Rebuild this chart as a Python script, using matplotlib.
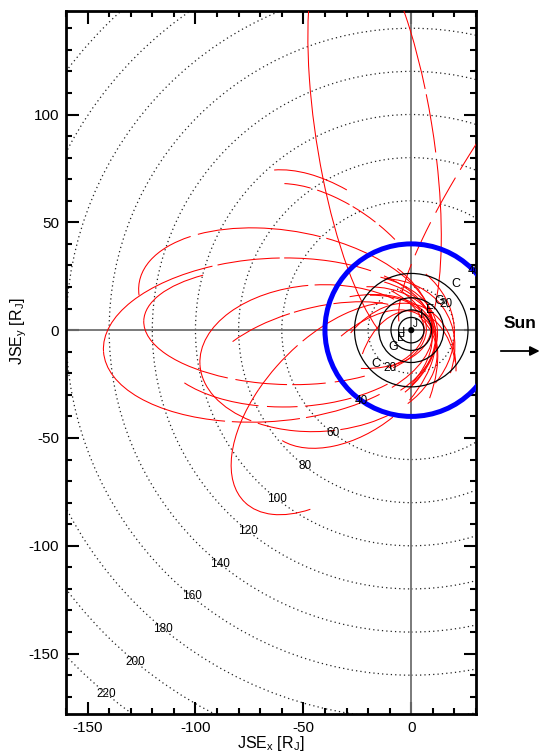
import numpy as np
import matplotlib
matplotlib.use("Agg")
import matplotlib.pyplot as plt
from matplotlib.patches import Arc, Circle
from matplotlib.ticker import MultipleLocator

plt.rcParams['font.family'] = ['Liberation Sans', 'DejaVu Sans']
plt.rcParams['axes.unicode_minus'] = False
plt.rcParams['mathtext.fontset'] = 'custom'
plt.rcParams['mathtext.rm'] = 'Liberation Sans'
plt.rcParams['mathtext.it'] = 'Liberation Sans:italic'

# distance rings [RJ]
ring_radii = [20, 40, 60, 80, 100, 120, 140, 160, 180, 200, 220]
ring_radii_ne = [20, 40]   # labels repeated on the upper right (only these fall in view)
# moon orbits
moon_names = ['I', 'E', 'G', 'C']
moon_radii = [5.9, 9.4, 15.0, 26.3]
boundary_r = 40

# trajectory pieces, read off as ellipse fits in JSE:
# centre x, centre y, semi-major, semi-minor, tilt [deg], visible arcs [deg]
orb_cx = [-66.3, -58.1, -59.0, -43.0, -35.1, -17.0, 127.3, -36.0, -36.3, -44.9,
          -28.7, -54.4, -38.1, -32.4, -26.4, -9.9, -43.3, -2.2, -35.9, -34.9,
          -23.3, -56.3, -39.0, -57.5]
orb_cy = [-4.6, 10.2, 2.1, -13.0, -36.3, 90.0, 151.8, 30.2, 27.4, -12.0,
          -20.1, -2.9, 13.9, -11.8, -37.7, -27.3, -25.0, -25.4, -6.3, -3.1,
          -16.3, 4.9, -18.2, -15.4]
orb_a = [76.5, 69.0, 65.0, 55.0, 60.5, 100.0, 201.9, 57.0, 54.5, 51.5,
         45.0, 63.5, 49.5, 45.5, 54.0, 41.0, 60.0, 34.5, 48.5, 55.0,
         46.5, 63.5, 52.0, 70.5]
orb_b = [37.8, 35.8, 27.3, 34.0, 33.3, 27.0, 39.0, 32.2, 30.0, 22.1,
         28.3, 32.6, 28.5, 29.7, 28.3, 29.0, 33.2, 23.2, 31.9, 42.4,
         36.7, 29.0, 29.2, 37.8]
orb_tilt = [184, 170, 178, 183, 226, 99, 50, 140, 143, 195,
            215, 183, 160, 200, 235, 250, 210, 265, 190, 185,
            215, 175, 205, 195]
orb_arcs = [
    [(0, 58), (62, 108), (112, 150), (155, 205), (210, 255), (258, 300), (303, 360)],
    [(180, 250), (254, 330), (333, 365)],
    [(0, 45), (50, 95), (100, 128), (134, 150), (160, 200), (330, 360)],
    [(0, 40), (44, 100), (104, 140), (150, 200), (215, 270), (275, 360)],
    [(200, 250), (255, 300), (300, 360), (0, 30)],
    [(15, 172), (190, 240), (246, 300), (304, 345)],
    [(160, 163), (163.8, 166.5), (167.2, 170), (170.7, 173), (173.6, 175.5), (176, 178)],
    [(300, 342)],
    [(244, 262), (266, 290), (293, 318), (322, 336)],
    [(200, 235), (240, 280), (285, 335)],
    [(10, 100)],
    [(20, 60), (66, 90), (96, 130), (135, 150)],
    [(135, 225)],
    [(130, 230)],
    [(135, 225)],
    [(125, 235)],
    [(140, 220)],
    [(120, 240)],
    [(135, 225)],
    [(150, 210)],
    [(140, 220)],
    [(160, 200)],
    [(145, 215)],
    [(155, 205)],
]

fig = plt.figure(figsize=(5.43, 7.54), dpi=100)
ax = fig.add_axes([66 / 543, 40 / 754, 410 / 543, 703 / 754])

# dotted distance rings + labels
for r in ring_radii:
    ax.add_patch(Circle((0, 0), r, fill=False, ls=(0, (1, 2.5)), lw=0.9, color='#222222', zorder=1))
    th = np.deg2rad(229.0 + 240.0 / r)
    ax.text(r * np.cos(th), r * np.sin(th), str(r), ha='center', va='center', fontsize=8.5, zorder=6)
for r in ring_radii_ne:
    th = np.deg2rad(49.0 - 240.0 / r)
    ax.text(r * np.cos(th), r * np.sin(th), str(r), ha='center', va='center', fontsize=8.5, zorder=6,
            clip_on=True)

ax.axhline(0, color='#707070', lw=1.3, zorder=2)
ax.axvline(0, color='#707070', lw=1.3, zorder=2)

# trajectories
for i in range(len(orb_cx)):
    for t1, t2 in orb_arcs[i]:
        ax.add_patch(Arc((orb_cx[i], orb_cy[i]), 2 * orb_a[i], 2 * orb_b[i], angle=orb_tilt[i],
                         theta1=t1, theta2=t2, color='red', lw=0.75, zorder=3))

# moon orbits
for name, r in zip(moon_names, moon_radii):
    ax.add_patch(Circle((0, 0), r, fill=False, lw=0.9, color='black', zorder=4))
    d = r / np.sqrt(2)
    ax.text(d, d, name, ha='left', va='bottom', fontsize=9, zorder=6)
    ax.text(-d, -d, name, ha='left', va='bottom', fontsize=9, zorder=6)
ax.add_patch(Circle((0, 0), 1.1, color='black', zorder=5))
ax.text(0.6, 0.6, 'J', fontsize=7, ha='left', va='bottom', zorder=6)

ax.add_patch(Circle((0, 0), boundary_r, fill=False, lw=3.6, color='#0000ff', zorder=5))

ax.set_xlim(-160, 30)
ax.set_ylim(-178, 148)
ax.xaxis.set_major_locator(MultipleLocator(50))
ax.yaxis.set_major_locator(MultipleLocator(50))
ax.xaxis.set_minor_locator(MultipleLocator(10))
ax.yaxis.set_minor_locator(MultipleLocator(10))
ax.tick_params(which='both', direction='in', top=True, right=True, width=1.5, labelsize=11, pad=5)
ax.tick_params(which='major', length=9)
ax.tick_params(which='minor', length=4.5)
for s in ax.spines.values():
    s.set_linewidth(2)

ax.set_xlabel(r'JSE$_\mathrm{x}$ [R$_\mathrm{J}$]', fontsize=11.5)
ax.set_ylabel(r'JSE$_\mathrm{y}$ [R$_\mathrm{J}$]', fontsize=11.5)
ax.xaxis.set_label_coords(0.5, -0.028)
ax.yaxis.set_label_coords(-0.09, 0.545)

fig.text(520 / 543, 1 - 324 / 754, 'Sun', fontsize=12.5, fontweight='bold', ha='center', va='center')
ax.annotate('', xy=(0.999, 1 - 351 / 754), xytext=(498 / 543, 1 - 351 / 754),
            xycoords='figure fraction', textcoords='figure fraction',
            arrowprops=dict(arrowstyle='-|>', color='black', lw=1.3, mutation_scale=14),
            annotation_clip=False)

fig.savefig('out.png', dpi=100)
